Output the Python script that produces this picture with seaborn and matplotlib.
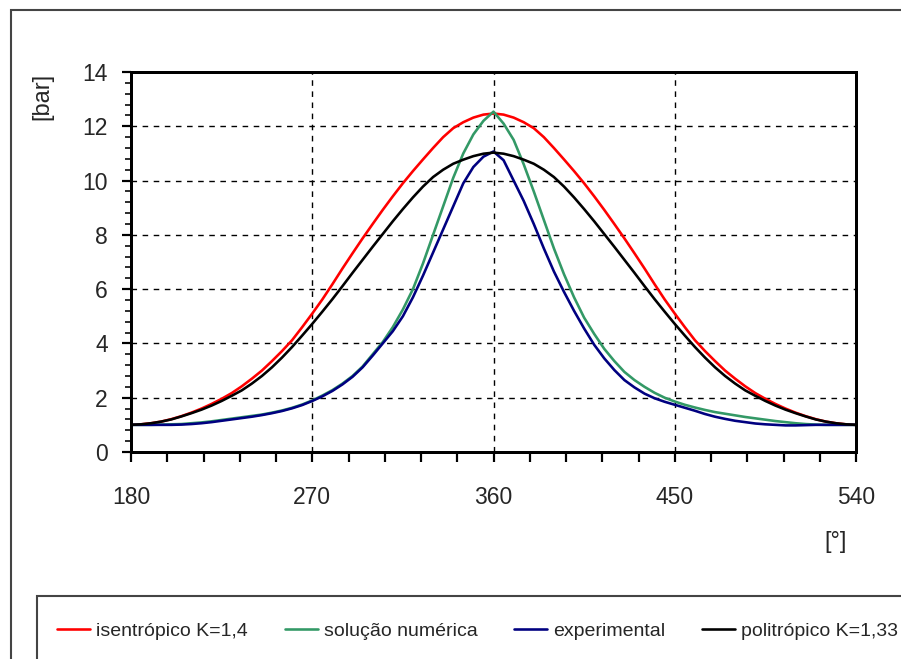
import numpy as np
import pandas as pd
import seaborn as sns
import matplotlib
matplotlib.use("Agg")
import matplotlib.pyplot as plt
from matplotlib.patches import Rectangle
from matplotlib.ticker import MultipleLocator, FixedLocator

# Crank angle [°], 180..540 in 5° steps
angles = list(range(180, 541, 5))

# Cylinder pressure [bar]
isentropico = [1.0, 1.02, 1.06, 1.12, 1.21, 1.32, 1.45, 1.6, 1.77, 1.96,
               2.17, 2.42, 2.7, 3.0, 3.35, 3.72, 4.12, 4.6, 5.1, 5.62,
               6.18, 6.76, 7.32, 7.87, 8.4, 8.92, 9.42, 9.9, 10.35, 10.78,
               11.2, 11.6, 11.93, 12.15, 12.32, 12.43, 12.47,
               12.43, 12.32, 12.15, 11.93, 11.6, 11.2, 10.78, 10.35, 9.9,
               9.42, 8.92, 8.4, 7.87, 7.32, 6.76, 6.18, 5.62, 5.1, 4.6,
               4.12, 3.72, 3.35, 3.0, 2.7, 2.42, 2.17, 1.96, 1.77, 1.6,
               1.45, 1.32, 1.21, 1.12, 1.06, 1.02, 1.0]
numerica = [1.0, 1.0, 1.0, 1.01, 1.02, 1.03, 1.06, 1.09, 1.13, 1.18,
            1.23, 1.28, 1.33, 1.38, 1.45, 1.53, 1.63, 1.75, 1.9, 2.08,
            2.28, 2.52, 2.8, 3.15, 3.6, 4.05, 4.6, 5.25, 6.0, 6.95,
            8.0, 9.05, 10.1, 11.0, 11.7, 12.2, 12.54,
            12.1, 11.5, 10.6, 9.6, 8.55, 7.5, 6.55, 5.7, 4.95,
            4.35, 3.8, 3.35, 2.95, 2.65, 2.4, 2.18, 2.0, 1.86, 1.74,
            1.64, 1.55, 1.47, 1.41, 1.35, 1.29, 1.24, 1.19, 1.14, 1.1,
            1.06, 1.03, 1.01, 1.0, 1.0, 1.0, 1.0]
experimental = [1.0, 1.0, 1.0, 1.0, 1.0, 1.01, 1.03, 1.06, 1.1, 1.15,
                1.2, 1.25, 1.3, 1.36, 1.43, 1.51, 1.61, 1.73, 1.88, 2.05,
                2.25, 2.49, 2.77, 3.12, 3.55, 4.0, 4.45, 5.0, 5.7, 6.5,
                7.35, 8.2, 9.05, 9.9, 10.5, 10.88, 11.07,
                10.75, 10.0, 9.25, 8.4, 7.5, 6.65, 5.9, 5.2, 4.55,
                3.95, 3.45, 3.02, 2.65, 2.38, 2.15, 1.98, 1.85, 1.74, 1.63,
                1.52, 1.4, 1.3, 1.22, 1.15, 1.1, 1.05, 1.02, 1.0, 0.98,
                0.98, 0.99, 1.0, 1.0, 1.0, 1.0, 1.0]
politropico = [1.0, 1.02, 1.06, 1.12, 1.2, 1.31, 1.43, 1.56, 1.71, 1.88,
               2.07, 2.27, 2.52, 2.8, 3.12, 3.48, 3.87, 4.29, 4.72, 5.17,
               5.63, 6.11, 6.6, 7.08, 7.56, 8.03, 8.5, 8.95, 9.38, 9.78,
               10.13, 10.4, 10.62, 10.77, 10.9, 10.99, 11.03,
               10.99, 10.9, 10.77, 10.62, 10.4, 10.13, 9.78, 9.38, 8.95,
               8.5, 8.03, 7.56, 7.08, 6.6, 6.11, 5.63, 5.17, 4.72, 4.29,
               3.87, 3.48, 3.12, 2.8, 2.52, 2.27, 2.07, 1.88, 1.71, 1.56,
               1.43, 1.31, 1.2, 1.12, 1.06, 1.02, 1.0]

series_names = ["isentrópico K=1,4", "solução numérica", "experimental",
                "politrópico K=1,33"]
series_values = [isentropico, numerica, experimental, politropico]
colors = ["#FF0000", "#339966", "#000080", "#000000"]

frames = [pd.DataFrame({"angulo": angles, "pressao": vals, "curva": name})
          for name, vals in zip(series_names, series_values)]
df = pd.concat(frames, ignore_index=True)

sns.set_style("white")
plt.rcParams["font.family"] = ["Liberation Sans", "DejaVu Sans"]

W, H = 901, 659
PX = 72 / 100  # points per pixel at 100 dpi
fig = plt.figure(figsize=(W / 100, H / 100), dpi=100)
ax = fig.add_axes([131 / W, 1 - 452 / H, (856 - 131) / W, (452 - 72) / H])

sns.lineplot(data=df, x="angulo", y="pressao", hue="curva",
             palette=dict(zip(series_names, colors)), hue_order=series_names,
             estimator=None, linewidth=2.6 * PX, ax=ax)

ax.set_xlim(180, 540)
ax.set_ylim(0, 14)

ax.xaxis.set_major_locator(FixedLocator([180, 270, 360, 450, 540]))
ax.xaxis.set_minor_locator(MultipleLocator(18))
ax.yaxis.set_major_locator(MultipleLocator(2))
ax.yaxis.set_minor_locator(MultipleLocator(0.4))

ax.tick_params(axis="x", which="both", direction="out", length=10 * PX,
               width=2.2 * PX, color="black", bottom=True, labelsize=16.5,
               pad=24 * PX)
ax.tick_params(axis="y", which="major", direction="out", length=9 * PX,
               width=2.2 * PX, color="black", left=True, labelsize=16.5,
               pad=14 * PX)
ax.tick_params(axis="y", which="minor", direction="out", length=6 * PX,
               width=1.6 * PX, color="black", left=True)

# dashed grid: horizontal at every major y, vertical only at interior x majors
for yv in range(2, 14, 2):
    ax.axhline(yv, color="black", lw=1.0, ls=(0, (4, 4)), zorder=0)
for xv in [270, 360, 450]:
    ax.axvline(xv, color="black", lw=1.0, ls=(0, (4, 4)), zorder=0)

for sp in ax.spines.values():
    sp.set_visible(True)
    sp.set_color("black")
    sp.set_linewidth(3 * PX)

ax.set_xlabel("")
ax.set_ylabel("")
fig.text(42 / W, 1 - 96 / H, "[bar]", rotation=90, ha="center", va="center",
         fontsize=17)
fig.text(836 / W, 1 - 542 / H, "[°]", ha="center", va="center", fontsize=17)

handles, labels = ax.get_legend_handles_labels()
ax.get_legend().remove()

# outer chart border and legend box (run past the canvas edge)
fig.patches.append(Rectangle((11 / W, -0.2), 1.2, 1.2 - 10 / H,
                             transform=fig.transFigure, fill=False,
                             edgecolor="#444444", lw=1.5))
fig.patches.append(Rectangle((37 / W, -0.2), 1.2, 0.2 + (H - 596) / H,
                             transform=fig.transFigure, fill=False,
                             edgecolor="#444444", lw=1.5))

# one legend entry per series, laid out in a row
entry_x = [57, 285, 514, 702]
for h, lab, x0 in zip(handles, labels, entry_x):
    fig.legend([h], [lab], loc="center left",
               bbox_to_anchor=(x0 / W, 1 - 631 / H), frameon=False,
               fontsize=14, handlelength=1.7, handletextpad=0.3,
               borderpad=0, borderaxespad=0)

fig.savefig("out.png", dpi=100)
